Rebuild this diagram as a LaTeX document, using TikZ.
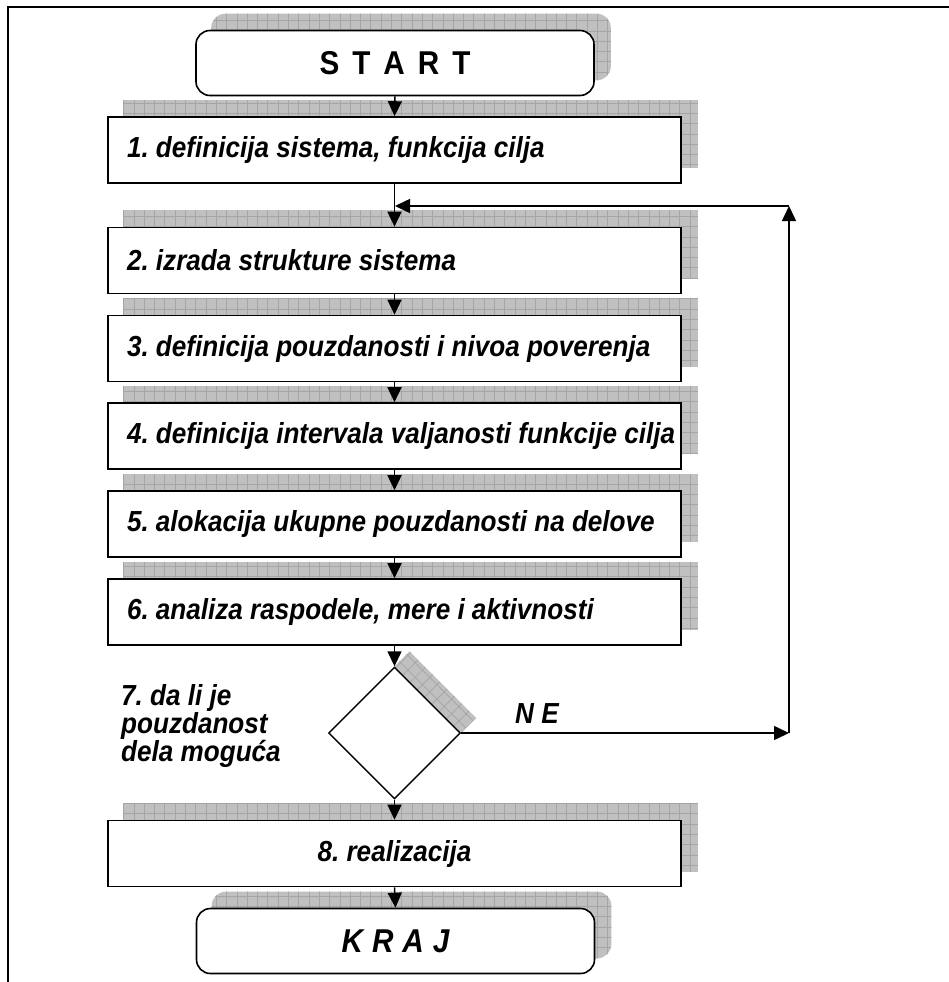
\documentclass[tikz,border=0pt]{standalone}
\usepackage{fontspec}
\setmainfont[FakeStretch=0.9]{Liberation Sans}
\usetikzlibrary{arrows.meta,shapes.geometric,calc}
\pgfdeclarelayer{background}
\pgfsetlayers{background,main}
\frenchspacing
\definecolor{shfill}{RGB}{192,192,192}
\definecolor{shline}{RGB}{165,165,165}
\tikzset{
  stepbox/.style={draw=black, line width=1.6pt, fill=white, minimum width=573pt, minimum height=66pt,
    text width=573pt, inner xsep=0pt, inner ysep=0pt, align=left,
    execute at begin node={\leftskip=19pt\spaceskip=7.2pt plus 2pt\relax},
    font=\fontsize{29}{32}\selectfont\bfseries\itshape},
  stepboxc/.style={draw=black, line width=1.6pt, fill=white, minimum width=573pt, minimum height=66pt,
    inner sep=0pt, font=\fontsize{29}{32}\selectfont\bfseries\itshape},
  termbox/.style={draw=black, line width=1.6pt, fill=white, rounded corners=14pt, minimum width=398pt,
    minimum height=65pt, inner sep=0pt},
  decision/.style={diamond, draw=black, line width=1.4pt, fill=white, minimum width=132pt,
    minimum height=132pt, inner sep=0pt, aspect=1},
  flow/.style={line width=1.5pt, -{Triangle[length=15pt,width=14pt]}},
  lbl/.style={font=\fontsize{29}{26.5}\selectfont\bfseries\itshape, inner sep=0pt},
  frameline/.style={line width=2.2pt}
}
\newcommand\gridshadow[2]{%
  \begin{scope}
    \clip[rounded corners=#2] ($(#1.south west)+(16,-16)$) rectangle ($(#1.north east)+(16,-16)$);
    \fill[shfill] (0,0) rectangle (949,982);
    \draw[shline, line width=0.7pt, step=10.3pt] (0,0) grid (949,982);
  \end{scope}}
\begin{document}
\begin{tikzpicture}[x=1pt,y=-1pt]
\useasboundingbox (0,0) rectangle (949,982);
\draw[frameline] (949,7) -- (8,7) -- (8,982);

\node[termbox, font=\fontsize{33}{36}\selectfont\bfseries, execute at begin node={\spaceskip=13pt\relax}] (start) at (395,63) {S T A R T};
\node[stepbox] (b1) at (394.5,150) {1. definicija sistema, funkcija cilja};
\node[stepbox] (b2) at (394.5,260.5) {2. izrada strukture sistema};
\node[stepbox] (b3) at (394.5,348.5) {3. definicija pouzdanosti i nivoa poverenja};
\node[stepbox] (b4) at (394.5,436) {4. definicija intervala valjanosti funkcije cilja};
\node[stepbox] (b5) at (394.5,524) {5. alokacija ukupne pouzdanosti na delove};
\node[stepbox] (b6) at (394.5,612) {6. analiza raspodele, mere i aktivnosti};
\node[decision] (d) at (394.5,733) {};
\node[stepboxc] (b8) at (394.5,853.5) {8. realizacija};
\node[termbox, font=\fontsize{33}{36}\selectfont\bfseries\itshape, execute at begin node={\spaceskip=9pt\relax}] (kraj) at (395.5,941) {K R A J};

\node[lbl, anchor=north west, align=left] (q) at (121,684) {7. da li je\\pouzdanost\\dela moguća};
\node[lbl, anchor=west] (ne) at (515,714) {N E};

\begin{pgfonlayer}{background}
  \gridshadow{start}{14pt}
  \gridshadow{b1}{0pt}
  \gridshadow{b2}{0pt}
  \gridshadow{b3}{0pt}
  \gridshadow{b4}{0pt}
  \gridshadow{b5}{0pt}
  \gridshadow{b6}{0pt}
  \gridshadow{b8}{0pt}
  \gridshadow{kraj}{14pt}
  \begin{scope}
    \clip (d.north) -- ($(d.north)+(15,-15)$) -- ($(d.east)+(15,-15)$) -- (d.east) -- cycle;
    \fill[shfill] (0,0) rectangle (949,982);
    \draw[shline, line width=0.7pt, step=10.3pt, rotate=45] (-1000,-1000) grid (2000,2000);
  \end{scope}
\end{pgfonlayer}

\coordinate (c1) at (789,733);
\coordinate (c2) at (789,206);
\coordinate (j) at (395,206);

\draw[flow] (start.south) -- (b1.north);
\draw[flow] (b1.south) -- (b2.north);
\draw[flow] (b2.south) -- (b3.north);
\draw[flow] (b3.south) -- (b4.north);
\draw[flow] (b4.south) -- (b5.north);
\draw[flow] (b5.south) -- (b6.north);
\draw[flow] (b6.south) -- (d.north);
\draw[flow] (d.south) -- (b8.north);
\draw[flow] (b8.south) -- (kraj.north);
\draw[flow] (d.east) -- (c1);
\draw[flow] (c1) -- (c2);
\draw[flow] (c2) -- (j);
\end{tikzpicture}
\end{document}
